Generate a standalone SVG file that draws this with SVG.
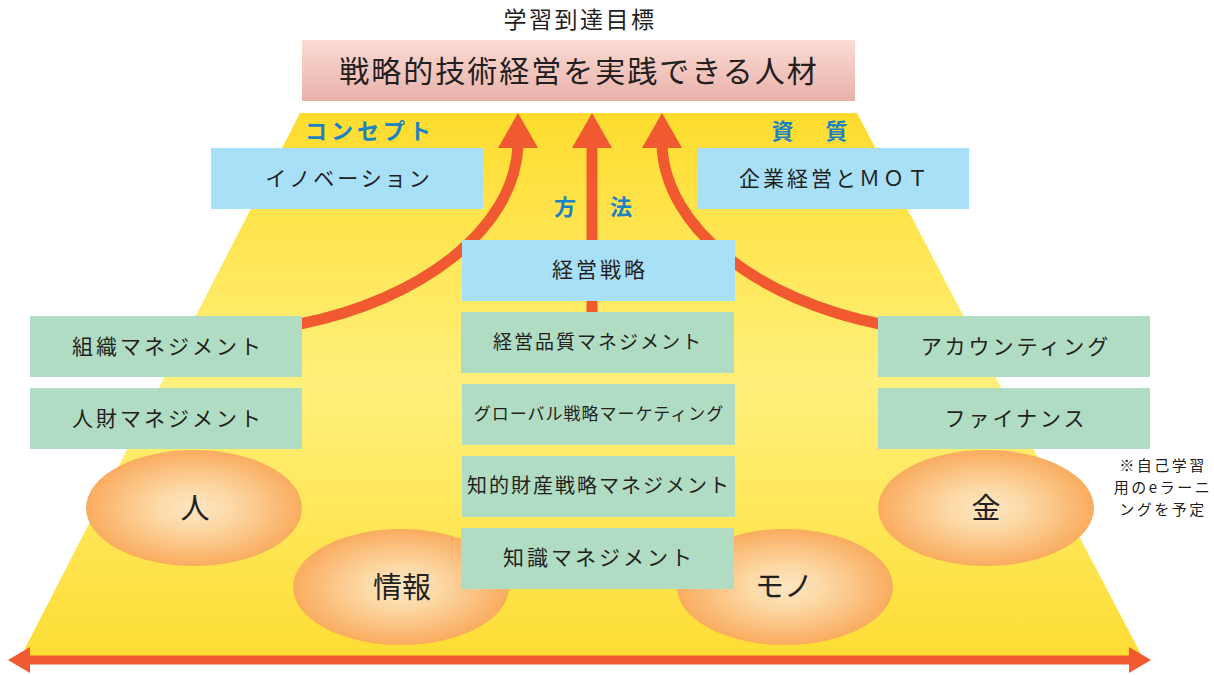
<svg xmlns="http://www.w3.org/2000/svg" width="1214" height="675" viewBox="0 0 1214 675">
<defs>
<linearGradient id="gYellow" x1="0" y1="0" x2="0" y2="1">
<stop offset="0" stop-color="#fedc2e"/>
<stop offset="0.5" stop-color="#fff07c"/>
<stop offset="1" stop-color="#fddd33"/>
</linearGradient>
<linearGradient id="gPink" x1="0" y1="0" x2="0" y2="1">
<stop offset="0" stop-color="#fbdbd3"/>
<stop offset="1" stop-color="#e8b1aa"/>
</linearGradient>
<radialGradient id="gOrange" cx="0.5" cy="0.5" r="0.5">
<stop offset="0" stop-color="#fde6c2"/>
<stop offset="0.35" stop-color="#fcd9a6"/>
<stop offset="1" stop-color="#f9ac5f"/>
</radialGradient>
<style>
text{font-family:"Noto Sans CJK JP","Noto Sans",sans-serif;fill:#231f20;dominant-baseline:central;text-anchor:middle}
.blue{fill:#a8e0f8}
.green{fill:#b0dcc3}
.ell{fill:url(#gOrange)}
.t21{font-size:21px;letter-spacing:3px}
.lbl{font-size:22px;fill:#1b82c4;font-weight:700}
.big{font-size:29px}
.arr{fill:none;stroke:#f15a30;stroke-width:11}
.head{fill:#f15a30}
.note{font-size:15px;letter-spacing:2.5px}
</style>
</defs>

<polygon points="300,113 857,113 1143,658 20,658" fill="url(#gYellow)"/>

<g id="title">
<text x="580" y="18" style="font-size:23px;letter-spacing:2.5px">学習到達目標</text>
</g>
<g id="goal">
<rect x="302" y="40" width="553" height="61" fill="url(#gPink)"/>
<text x="579" y="69" style="font-size:30px;letter-spacing:2px">戦略的技術経営を実践できる人材</text>
</g>

<g id="ellipses">
<g id="n-hito"><ellipse class="ell" cx="194" cy="508" rx="108" ry="58"/><text class="big" x="195" y="506">人</text></g>
<g id="n-joho"><ellipse class="ell" cx="401" cy="587" rx="108" ry="58"/><text class="big" x="402" y="585">情報</text></g>
<g id="n-mono"><ellipse class="ell" cx="785" cy="587" rx="108" ry="58"/><text class="big" x="784" y="584">モノ</text></g>
<g id="n-kane"><ellipse class="ell" cx="986" cy="508" rx="108" ry="58"/><text class="big" x="986" y="506">金</text></g>
</g>

<g id="connectors">
<path class="arr" d="M300,324 C420,300 514,230 518,146"/>
<polygon class="head" points="518,113 498,148 538,148"/>
<path class="arr" d="M592,315 L592,146"/>
<polygon class="head" points="592,113 572,148 612,148"/>
<path class="arr" d="M880,324 C760,300 666,230 662,146"/>
<polygon class="head" points="662,113 642,148 682,148"/>
<path d="M28,660 H1130" stroke="#f15a30" stroke-width="9"/>
<polygon class="head" points="8,660 30,647 30,673"/>
<polygon class="head" points="1151,660 1129,647 1129,673"/>
</g>

<g id="labels">
<text class="lbl" x="370" y="129" style="letter-spacing:4px">コンセプト</text>
<text class="lbl" x="812" y="129" style="letter-spacing:5px">資　質</text>
<text class="lbl" x="596" y="205" style="letter-spacing:6px">方　法</text>
</g>

<g id="n-innovation"><rect class="blue" x="211" y="148" width="272" height="61"/><text class="t21" x="349" y="177">イノベーション</text></g>
<g id="n-mot"><rect class="blue" x="697" y="148" width="272" height="61"/><text class="t21" x="835" y="177">企業経営とＭＯＴ</text></g>
<g id="n-strategy"><rect class="blue" x="462" y="240" width="273" height="61"/><text class="t21" x="600" y="268">経営戦略</text></g>

<g id="n-soshiki"><rect class="green" x="30" y="316" width="272" height="61"/><text class="t21" x="168" y="345">組織マネジメント</text></g>
<g id="n-jinzai"><rect class="green" x="30" y="388" width="272" height="61"/><text class="t21" x="168" y="417">人財マネジメント</text></g>
<g id="n-accounting"><rect class="green" x="878" y="316" width="272" height="61"/><text class="t21" x="1016" y="345">アカウンティング</text></g>
<g id="n-finance"><rect class="green" x="878" y="388" width="272" height="61"/><text class="t21" x="1016" y="417">ファイナンス</text></g>

<g id="n-quality"><rect class="green" x="461" y="312" width="273" height="61"/><text x="598" y="340" style="font-size:19px;letter-spacing:2px">経営品質マネジメント</text></g>
<g id="n-global"><rect class="green" x="462" y="384" width="273" height="61"/><text x="599" y="412" style="font-size:17px;letter-spacing:1px">グローバル戦略マーケティング</text></g>
<g id="n-ip"><rect class="green" x="462" y="456" width="273" height="61"/><text x="599" y="484" style="font-size:20px;letter-spacing:2px">知的財産戦略マネジメント</text></g>
<g id="n-knowledge"><rect class="green" x="461" y="528" width="273" height="61"/><text class="t21" x="599" y="556">知識マネジメント</text></g>

<g id="note">
<text class="note" x="1163" y="464"><tspan x="1163" y="464">※自己学習</tspan><tspan x="1163" y="486">用のeラーニ</tspan><tspan x="1163" y="508">ングを予定</tspan></text>
</g>
</svg>
